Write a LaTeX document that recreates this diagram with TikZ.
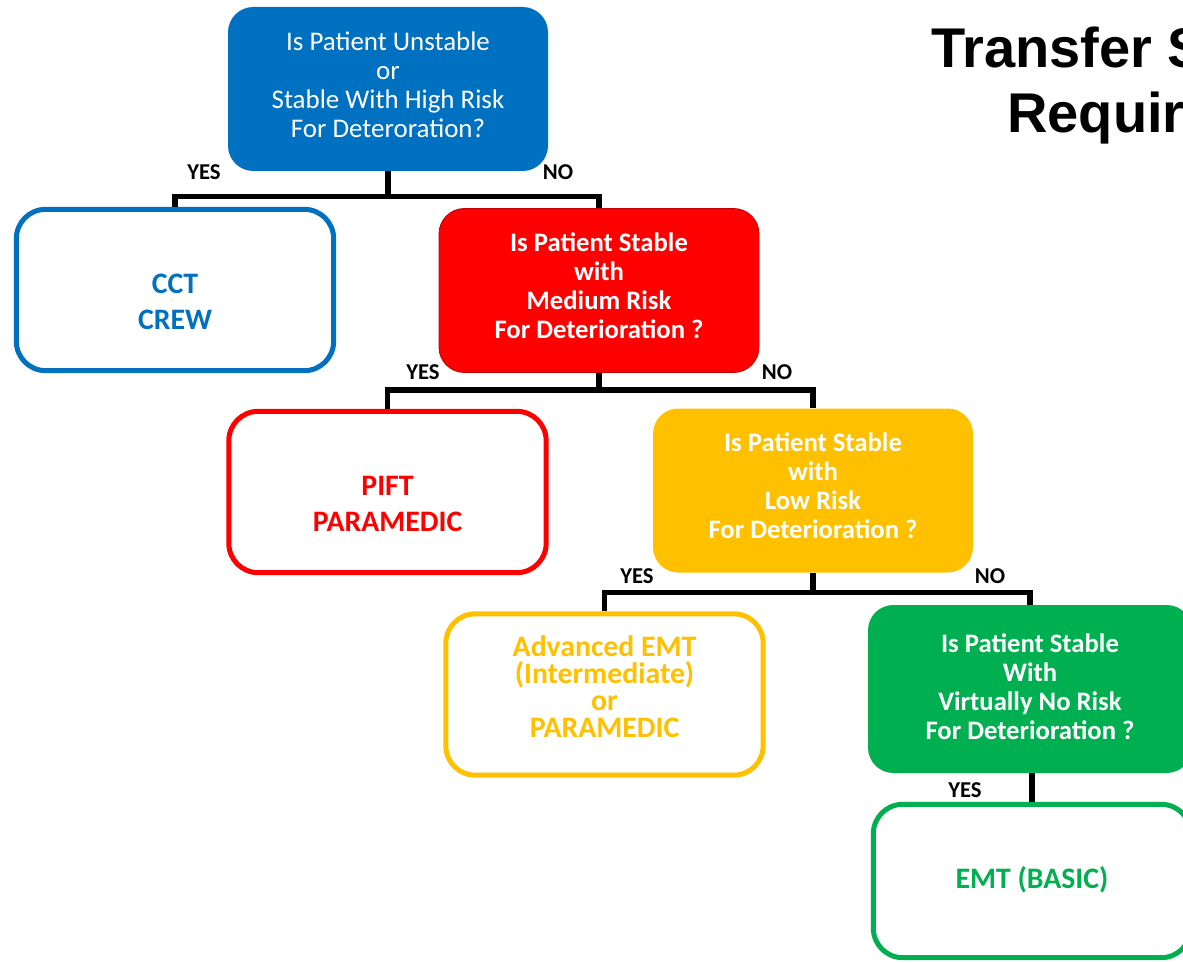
\documentclass[tikz,border=0pt]{standalone}
\usepackage{fontspec}
\setmainfont{Carlito}
\newfontfamily\titlefont{Liberation Sans}
\definecolor{cblue}{HTML}{0070C0}
\definecolor{cred}{HTML}{FF0000}
\definecolor{cyel}{HTML}{FFC000}
\definecolor{cgreen}{HTML}{00B050}
\definecolor{cdred}{HTML}{C00000}
\tikzset{
  qbox/.style={rounded corners=19pt, minimum width=240pt, minimum height=123pt, inner sep=0pt},
  qtxt/.style={align=center, text=white, inner sep=0pt, font=\fontsize{20}{21.8}\selectfont\bfseries},
  obox/.style={rounded corners=22pt, line width=3.75pt, fill=white, minimum width=238pt, minimum height=121pt, inner sep=0pt},
  otxt/.style={align=center, inner sep=0pt, font=\fontsize{22.3}{27}\selectfont\bfseries},
  conn/.style={line width=4pt, black},
  lbl/.style={font=\fontsize{17}{19}\selectfont\bfseries, inner sep=0pt}
}
\begin{document}
\begin{tikzpicture}[x=0.75pt,y=-0.75pt]
\useasboundingbox (0,0) rectangle (1183,963);
\begin{scope}
\clip (0,0) rectangle (1183,963);
\node[anchor=base west, inner sep=0pt, font=\titlefont\fontsize{42}{48}\selectfont\bfseries] (t1) at (931,68) {Transfer S};
\node[anchor=base west, inner sep=0pt, font=\titlefont\fontsize{42}{48}\selectfont\bfseries] (t2) at (1007,133) {Requir};

\node[qbox, fill=cblue] (q1) at (388,89) {};
\node[qtxt, font=\fontsize{20.2}{21.8}\selectfont] (q1t) at (388,85) {Is Patient Unstable\\or\\Stable With High Risk\\For Deteroration?};
\node[obox, draw=cblue] (cct) at (175,290) {};
\node[otxt, text=cblue] (cctt) at (175,302) {CCT\\CREW};
\node[qbox, fill=cred, draw=cdred, line width=0.6pt] (q2) at (599,290.5) {};
\node[qtxt] (q2t) at (599,286) {Is Patient Stable\\with\\Medium Risk\\For Deterioration ?};
\node[obox, draw=cred] (pift) at (387.5,492) {};
\node[otxt, text=cred] (piftt) at (387.5,504) {PIFT\\PARAMEDIC};
\node[qbox, fill=cyel] (q3) at (813,490.5) {};
\node[qtxt] (q3t) at (813,486) {Is Patient Stable\\with\\Low Risk\\For Deterioration ?};
\node[obox, draw=cyel] (adv) at (604.5,694.5) {};
\node[otxt, text=cyel, font=\fontsize{22.3}{20.3}\selectfont\bfseries] (advt) at (604.5,686.5) {Advanced EMT\\(Intermediate)\\or\\PARAMEDIC};
\node[qbox, fill=cgreen, minimum width=243pt, minimum height=126pt] (q4) at (1030,689) {};
\node[qtxt] (q4t) at (1030,687) {Is Patient Stable\\With\\Virtually No Risk\\For Deterioration ?};
\node[obox, draw=cgreen, minimum height=115pt] (emt) at (1032,881) {};
\node[otxt, text=cgreen] (emtt) at (1032,880) {EMT (BASIC)};

\draw[conn] (q1.south) -- ++(0,25) coordinate (j1);
\draw[conn] (cct.north) |- (j1) -| (q2.north);
\draw[conn] (q2.south) -- ++(0,17) coordinate (j2);
\draw[conn] (pift.north) |- (j2) -| (q3.north);
\draw[conn] (q3.south) -- ++(0,20) coordinate (j3);
\draw[conn] (adv.north) |- (j3) -| (q4.north);
\draw[conn] (q4.south -| emt.north) -- (emt.north);

\node[lbl] (l1) at (204,172) {YES};
\node[lbl] (l2) at (558,172) {NO};
\node[lbl] (l3) at (423,372) {YES};
\node[lbl] (l4) at (777,372) {NO};
\node[lbl] (l5) at (637,576) {YES};
\node[lbl] (l6) at (990,576) {NO};
\node[lbl] (l7) at (965,790) {YES};
\end{scope}
\end{tikzpicture}
\end{document}
